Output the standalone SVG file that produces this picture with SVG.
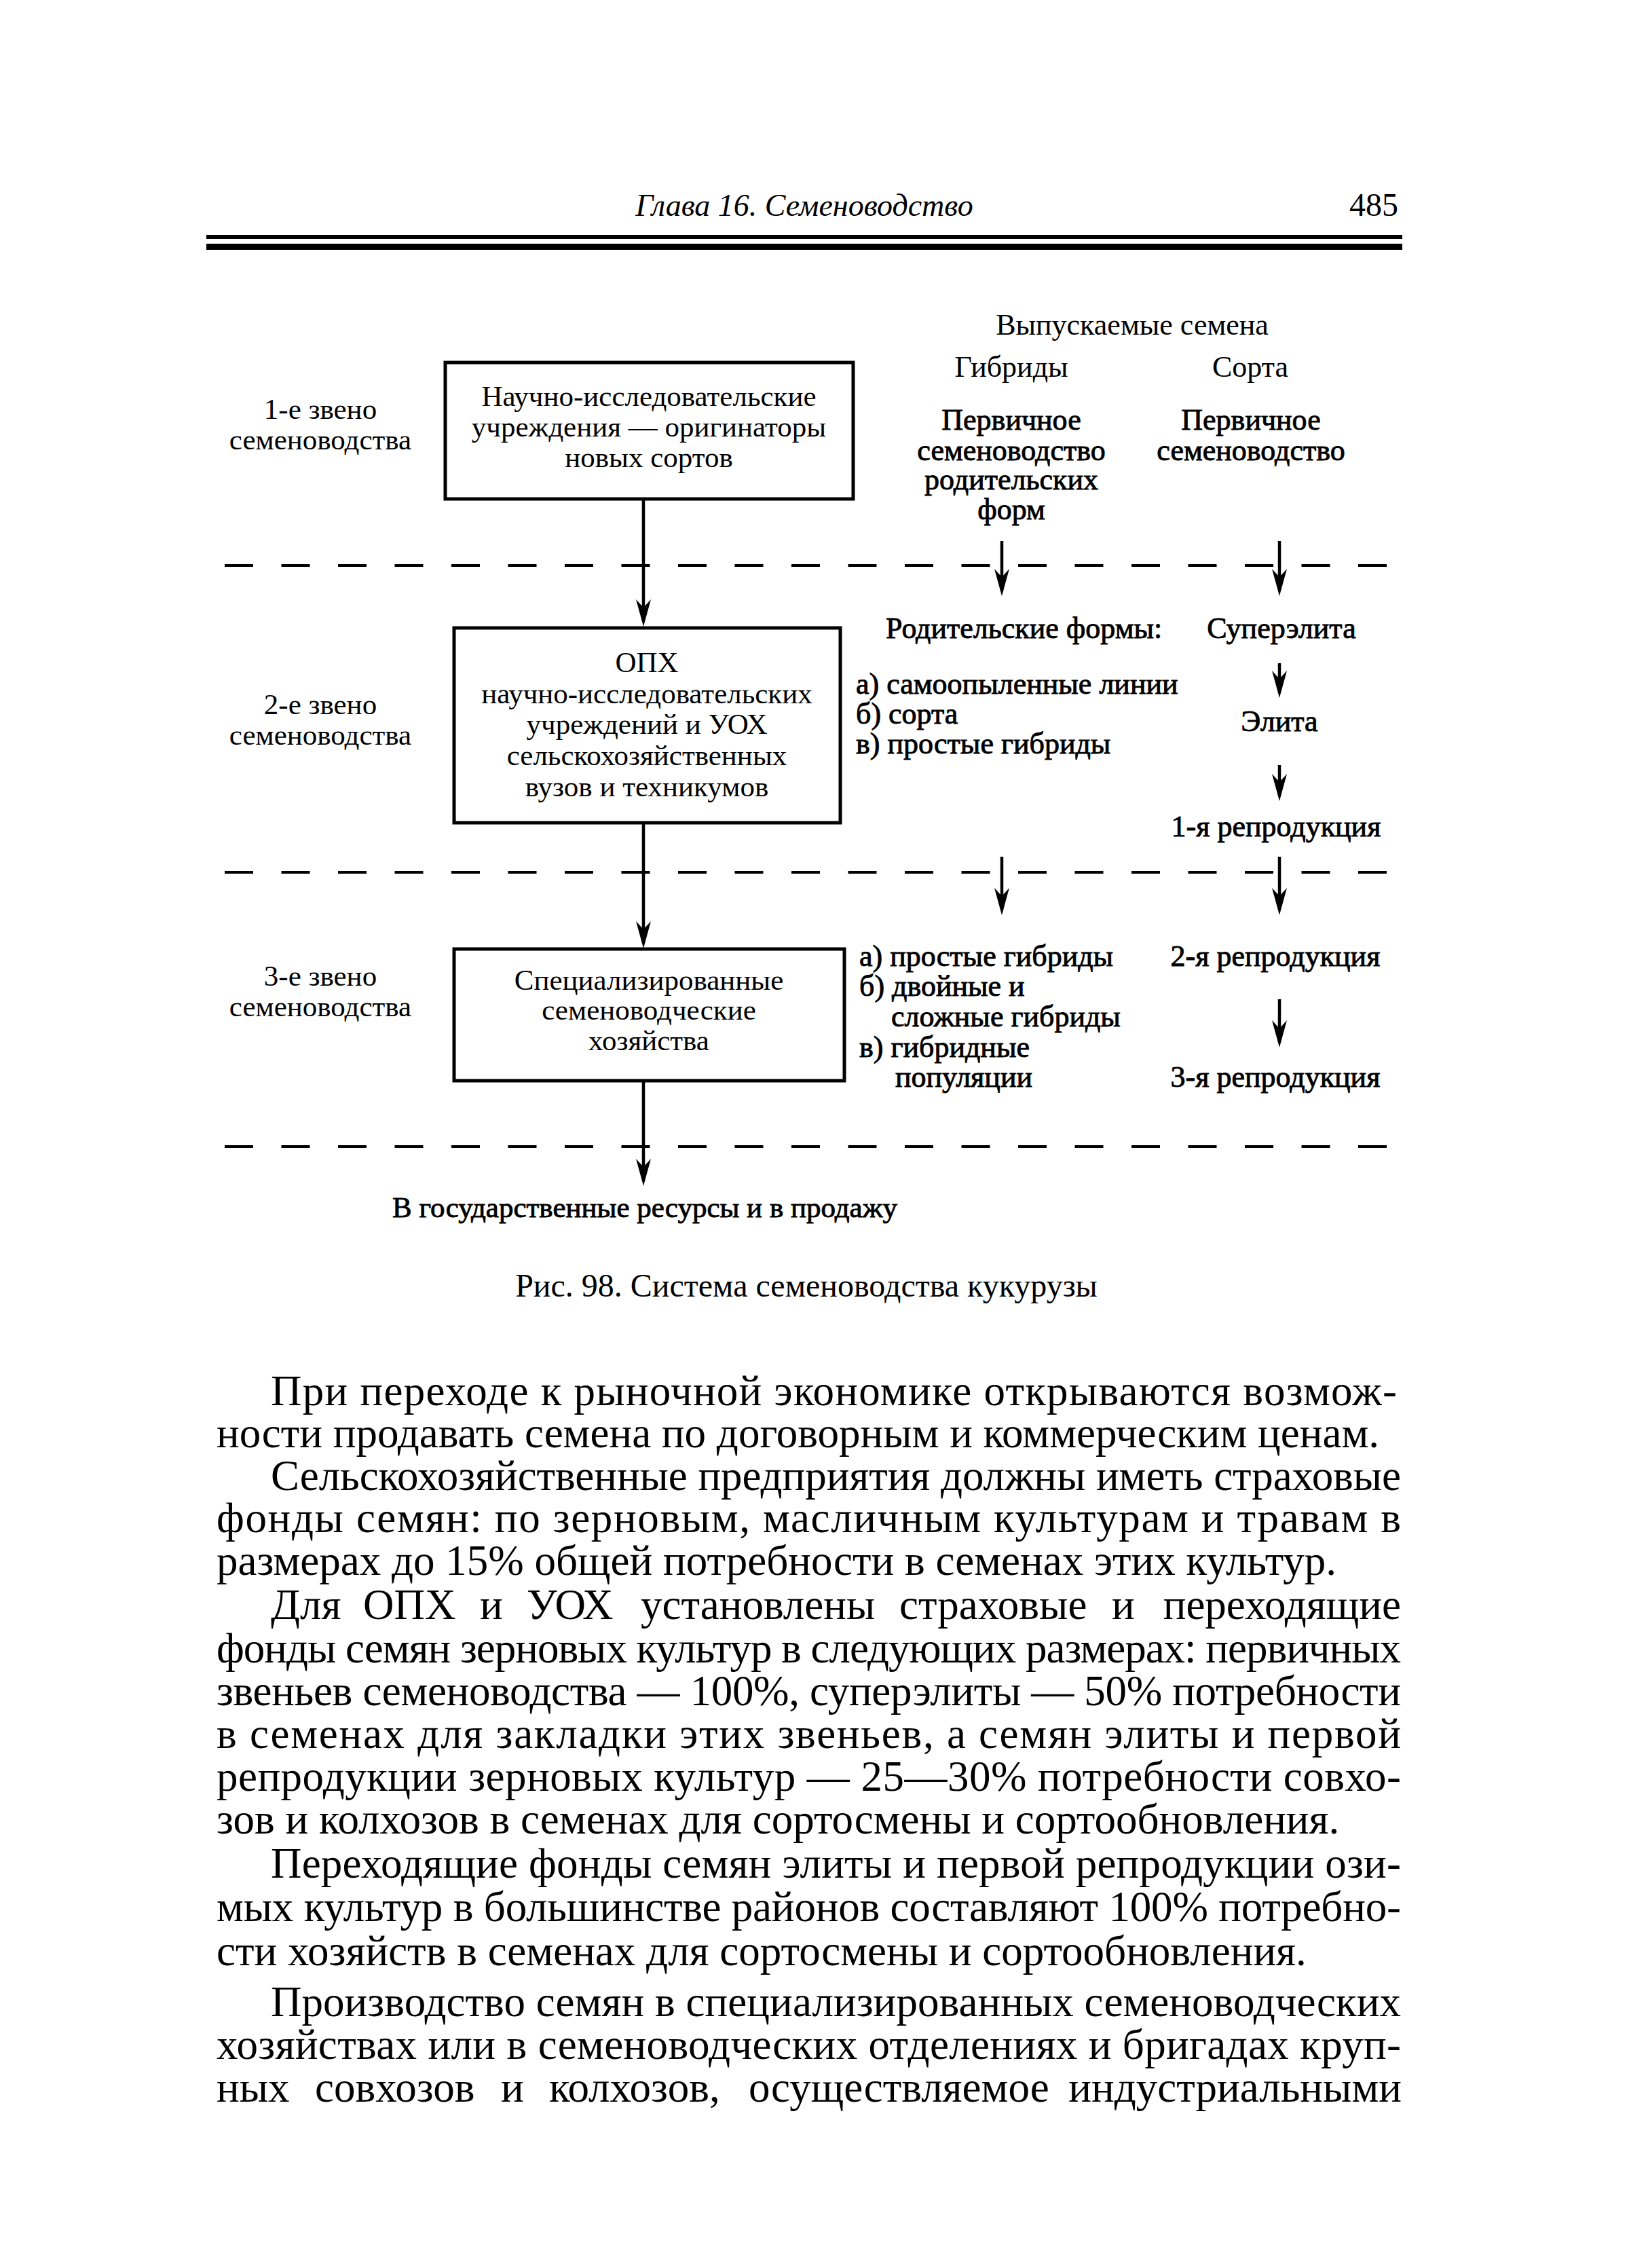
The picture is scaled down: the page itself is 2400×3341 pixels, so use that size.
<svg xmlns="http://www.w3.org/2000/svg" width="2400" height="3341" viewBox="0 0 2400 3341">
<style>
text { font-family: "Liberation Serif", "Times New Roman", serif; fill: #000; }
.d { font-size: 43px; }
.r { font-size: 44px; }
.h { stroke: #000; stroke-width: 0.9; }
.b { font-size: 63px; }
.c { text-anchor: middle; }
.box { fill: none; stroke: #000; stroke-width: 5; }
.dash { stroke: #000; stroke-width: 4; stroke-dasharray: 42 41.5; fill: none; }
.conn { stroke: #000; stroke-width: 4.5; fill: none; marker-end: url(#ah); }
</style>
<defs>
<marker id="ah" markerUnits="userSpaceOnUse" viewBox="-45 -14 50 28" markerWidth="50" markerHeight="28" refX="-8" refY="0" orient="auto">
<path d="M0,0 L-40,-11 L-28,0 L-40,11 Z" fill="#000"/>
</marker>
</defs>
<rect width="2400" height="3341" fill="#fff"/>

<g id="header">
<text x="1185" y="318" class="c" style="font-size:46px;font-style:italic">Глава 16. Семеноводство</text>
<text x="2060" y="318" style="font-size:48px;text-anchor:end">485</text>
<rect x="304" y="346" width="1762" height="6" fill="#000"/>
<rect x="304" y="359" width="1762" height="9" fill="#000"/>
</g>

<g id="separators">
<path class="dash" d="M331,833 H2048"/>
<path class="dash" d="M331,1285 H2048"/>
<path class="dash" d="M331,1689 H2048"/>
</g>

<g id="level-labels" class="d">
<text x="472" y="617" class="c">1-е звено</text>
<text x="472" y="662" class="c">семеноводства</text>
<text x="472" y="1052" class="c">2-е звено</text>
<text x="472" y="1097" class="c">семеноводства</text>
<text x="472" y="1452" class="c">3-е звено</text>
<text x="472" y="1497" class="c">семеноводства</text>
</g>

<g id="box1">
<rect class="box" x="656" y="534" width="601" height="201"/>
<text x="956" y="598" class="d c">Научно-исследовательские</text>
<text x="956" y="643" class="d c">учреждения — оригинаторы</text>
<text x="956" y="688" class="d c">новых сортов</text>
</g>

<g id="box2">
<rect class="box" x="669" y="925" width="569" height="287"/>
<text x="953" y="990" class="d c">ОПХ</text>
<text x="953" y="1036" class="d c">научно-исследовательских</text>
<text x="953" y="1081" class="d c">учреждений и УОХ</text>
<text x="953" y="1127" class="d c">сельскохозяйственных</text>
<text x="953" y="1173" class="d c">вузов и техникумов</text>
</g>

<g id="box3">
<rect class="box" x="669" y="1398" width="575" height="194"/>
<text x="956" y="1458" class="d c">Специализированные</text>
<text x="956" y="1502" class="d c">семеноводческие</text>
<text x="956" y="1547" class="d c">хозяйства</text>
</g>

<g id="seeds-header" class="r">
<text x="1668" y="493" class="c">Выпускаемые семена</text>
<text x="1490" y="555" class="c">Гибриды</text>
<text x="1842" y="555" class="c">Сорта</text>
</g>

<g id="hybrid-primary" class="r h">
<text x="1490" y="633" class="c">Первичное</text>
<text x="1490" y="678" class="c">семеноводство</text>
<text x="1490" y="721" class="c">родительских</text>
<text x="1490" y="765" class="c">форм</text>
</g>

<g id="variety-primary" class="r h">
<text x="1843" y="633" class="c">Первичное</text>
<text x="1843" y="678" class="c">семеноводство</text>
</g>

<g id="parent-forms" class="r h">
<text x="1305" y="940">Родительские формы:</text>
<text x="1261" y="1022">а) самоопыленные линии</text>
<text x="1261" y="1066">б) сорта</text>
<text x="1261" y="1110">в) простые гибриды</text>
</g>

<g id="superelite" class="r h"><text x="1888" y="940" class="c">Суперэлита</text></g>
<g id="elite" class="r h"><text x="1885" y="1077" class="c">Элита</text></g>
<g id="repro1" class="r h"><text x="1880" y="1232" class="c">1-я репродукция</text></g>

<g id="hybrids-3" class="r h">
<text x="1266" y="1423">а) простые гибриды</text>
<text x="1266" y="1467">б) двойные и</text>
<text x="1313" y="1512">сложные гибриды</text>
<text x="1266" y="1557">в) гибридные</text>
<text x="1319" y="1601">популяции</text>
</g>

<g id="repro2" class="r h"><text x="1879" y="1423" class="c">2-я репродукция</text></g>
<g id="repro3" class="r h"><text x="1879" y="1601" class="c">3-я репродукция</text></g>

<g id="output" class="d h"><text x="950" y="1793" class="c">В государственные ресурсы и в продажу</text></g>

<g id="connectors">
<path class="conn" d="M948,735 V915"/>
<path class="conn" d="M948,1212 V1389"/>
<path class="conn" d="M948,1592 V1739"/>
<path class="conn" d="M1476,797 V870"/>
<path class="conn" d="M1885,797 V870"/>
<path class="conn" d="M1885,977 V1020"/>
<path class="conn" d="M1885,1127 V1172"/>
<path class="conn" d="M1476,1262 V1340"/>
<path class="conn" d="M1885,1262 V1340"/>
<path class="conn" d="M1885,1472 V1535"/>
</g>

<g id="caption"><text x="1188" y="1910" class="c" style="font-size:48px">Рис. 98. Система семеноводства кукурузы</text></g>

<g id="body" class="b">
<text x="399" y="2070" textLength="1659" lengthAdjust="spacing">При переходе к рыночной экономике открываются возмож-</text>
<text x="319" y="2132">ности продавать семена по договорным и коммерческим ценам.</text>
<text x="399" y="2195" textLength="1665" lengthAdjust="spacing">Сельскохозяйственные предприятия должны иметь страховые</text>
<text x="319" y="2257" textLength="1745" lengthAdjust="spacing">фонды семян: по зерновым, масличным культурам и травам в</text>
<text x="319" y="2320">размерах до 15% общей потребности в семенах этих культур.</text>
<text y="2385"><tspan x="399">Для</tspan><tspan x="535">ОПХ</tspan><tspan x="707">и</tspan><tspan x="776">УОХ</tspan><tspan x="944">установлены</tspan><tspan x="1325">страховые</tspan><tspan x="1638">и</tspan><tspan x="2064" style="text-anchor:end">переходящие</tspan></text>
<text x="319" y="2449" textLength="1745" lengthAdjust="spacing">фонды семян зерновых культур в следующих размерах: первичных</text>
<text x="319" y="2512" textLength="1745" lengthAdjust="spacing">звеньев семеноводства — 100%, суперэлиты — 50% потребности</text>
<text x="319" y="2575" textLength="1745" lengthAdjust="spacing">в семенах для закладки этих звеньев, а семян элиты и первой</text>
<text x="319" y="2638" textLength="1745" lengthAdjust="spacing">репродукции зерновых культур — 25—30% потребности совхо-</text>
<text x="319" y="2701">зов и колхозов в семенах для сортосмены и сортообновления.</text>
<text x="399" y="2766" textLength="1665" lengthAdjust="spacing">Переходящие фонды семян элиты и первой репродукции ози-</text>
<text x="319" y="2830" textLength="1745" lengthAdjust="spacing">мых культур в большинстве районов составляют 100% потребно-</text>
<text x="319" y="2895">сти хозяйств в семенах для сортосмены и сортообновления.</text>
<text x="399" y="2970" textLength="1665" lengthAdjust="spacing">Производство семян в специализированных семеноводческих</text>
<text x="319" y="3033" textLength="1745" lengthAdjust="spacing">хозяйствах или в семеноводческих отделениях и бригадах круп-</text>
<text y="3096"><tspan x="319">ных</tspan><tspan x="464">совхозов</tspan><tspan x="738">и</tspan><tspan x="809">колхозов,</tspan><tspan x="1103">осуществляемое</tspan><tspan x="2065" style="text-anchor:end">индустриальными</tspan></text>
</g>
</svg>
